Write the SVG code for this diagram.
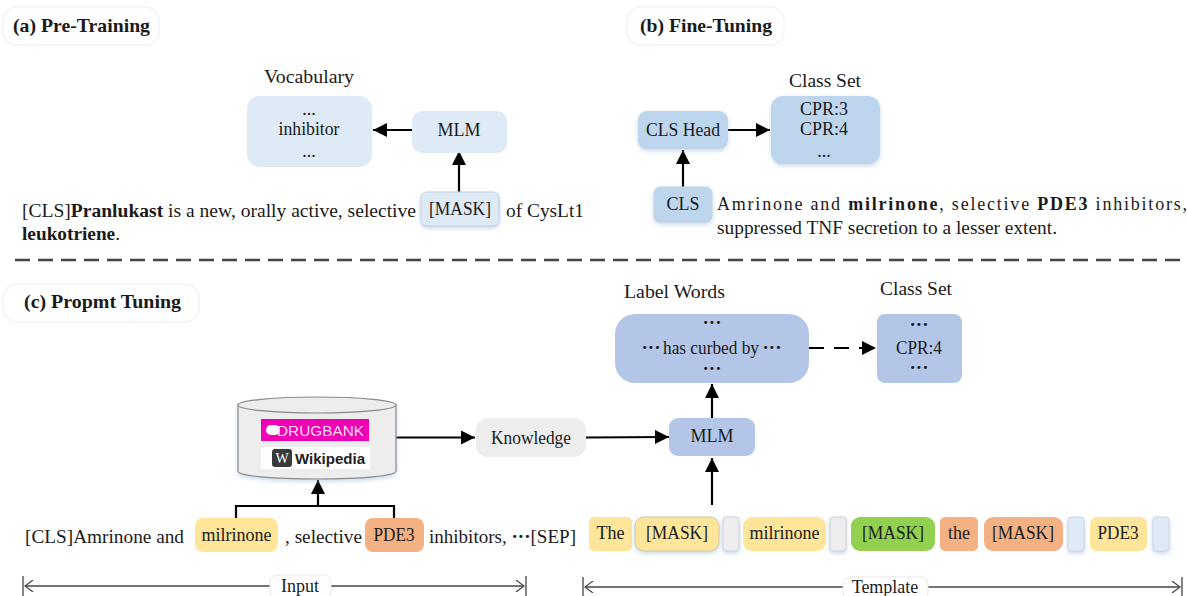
<svg xmlns="http://www.w3.org/2000/svg" width="1188" height="596" viewBox="0 0 1188 596">
<style>
text{font-family:"Liberation Serif","Times New Roman",serif;font-size:18px;fill:#1a1a1a}
.m{text-anchor:middle}
.h{font-weight:bold;font-size:19px}
.b{font-weight:bold}
.d{font-weight:bold;font-size:19px}
.pill{fill:#fff;stroke:#f1f3f6;stroke-width:1.5}
.blue1{fill:#deeaf6}
.blue2{fill:#bdd6ee}
.blue3{fill:#b4c6e7}
.yel{fill:#ffe599}
.org{fill:#f4b183}
.grn{fill:#92d050}
.gry{fill:#ededed}
.edge{fill:none;stroke:#000;stroke-width:2.2}
.span{fill:none;stroke:#444;stroke-width:1.3}
</style>
<defs>
<marker id="ah" markerUnits="userSpaceOnUse" markerWidth="15" markerHeight="16" refX="14" refY="8" orient="auto"><path d="M0 1L14 8L0 15Z" fill="#000"/></marker>
<marker id="open" markerUnits="userSpaceOnUse" markerWidth="10" markerHeight="12" refX="9" refY="6" orient="auto-start-reverse"><path d="M1 0L9 6L1 12" fill="none" stroke="#444" stroke-width="1.2"/></marker>
<filter id="sh" x="-20%" y="-20%" width="140%" height="150%"><feDropShadow dx="0" dy="2" stdDeviation="2" flood-color="#9db8d8" flood-opacity="0.55"/></filter>
</defs>

<g id="pill-a"><rect class="pill" x="3" y="7" width="156" height="38" rx="14"/><text class="h" x="13" y="32" textLength="137" lengthAdjust="spacingAndGlyphs">(a) Pre-Training</text></g>
<g id="pill-b"><rect class="pill" x="627" y="7" width="157" height="38" rx="14"/><text class="h" x="640" y="32" textLength="132" lengthAdjust="spacingAndGlyphs">(b) Fine-Tuning</text></g>
<g id="pill-c"><rect class="pill" x="3" y="284" width="196" height="38" rx="14"/><text class="h" x="24" y="308" textLength="157" lengthAdjust="spacingAndGlyphs">(c) Propmt Tuning</text></g>

<g id="connectors">
<path class="edge" d="M412 130H373" marker-end="url(#ah)"/>
<path class="edge" d="M459 192V151" marker-end="url(#ah)"/>
<path class="edge" d="M728 130H770" marker-end="url(#ah)"/>
<path class="edge" d="M683 187V150" marker-end="url(#ah)"/>
<path d="M15 260H1188" fill="none" stroke="#444" stroke-width="2.6" stroke-dasharray="15 8"/>
<path class="edge" d="M396 437.5H475" marker-end="url(#ah)"/>
<path class="edge" d="M586 437.5L669 437" marker-end="url(#ah)"/>
<path class="edge" d="M236 518V506H394V518"/>
<path class="edge" d="M318 506V480" marker-end="url(#ah)"/>
<path class="edge" d="M712 505V458" marker-end="url(#ah)"/>
<path class="edge" d="M712 418V384" marker-end="url(#ah)"/>
<path class="edge" d="M809 348H876" stroke-dasharray="15 10" marker-end="url(#ah)"/>
</g>

<g id="vocabulary"><text class="m" x="309" y="83" textLength="90" lengthAdjust="spacingAndGlyphs">Vocabulary</text><rect class="blue1" x="247" y="96" width="125" height="71" rx="13"/><text class="m" x="309" y="115">...</text><text class="m" x="309" y="135" textLength="61" lengthAdjust="spacingAndGlyphs">inhibitor</text><text class="m" x="309" y="157">...</text></g>
<g id="mlm-a"><rect class="blue1" x="412" y="111" width="95" height="42" rx="10"/><text class="m" x="459" y="136">MLM</text></g>
<g id="mask-a"><rect class="blue1" x="421" y="192" width="78" height="34" rx="6" stroke="#c3cfdd" filter="url(#sh)"/><text class="m" x="460" y="215" textLength="62" lengthAdjust="spacingAndGlyphs">[MASK]</text></g>
<g id="sentence-a"><text x="22" y="217" textLength="394" lengthAdjust="spacingAndGlyphs">[CLS]<tspan class="b">Pranlukast</tspan> is a new, orally active, selective</text><text x="506" y="217" textLength="78" lengthAdjust="spacingAndGlyphs">of CysLt1</text><text x="22" y="240" textLength="98" lengthAdjust="spacingAndGlyphs"><tspan class="b">leukotriene</tspan>.</text></g>

<g id="cls-head"><rect class="blue2" x="638" y="111" width="90" height="38" rx="9" filter="url(#sh)"/><text class="m" x="683" y="136" textLength="74" lengthAdjust="spacingAndGlyphs">CLS Head</text></g>
<g id="class-set-b"><text class="m" x="825" y="87" textLength="72" lengthAdjust="spacingAndGlyphs">Class Set</text><rect class="blue2" x="771" y="96" width="109" height="68" rx="12" filter="url(#sh)"/><text class="m" x="824" y="115">CPR:3</text><text class="m" x="824" y="135">CPR:4</text><text class="m" x="824" y="157">...</text></g>
<g id="cls"><rect class="blue2" x="654" y="187" width="58" height="35" rx="6" stroke="#c5d3e3" filter="url(#sh)"/><text class="m" x="683" y="210">CLS</text></g>
<g id="sentence-b"><text x="717" y="210" textLength="470">Amrinone  and <tspan class="b">milrinone</tspan>, selective <tspan class="b">PDE3</tspan> inhibitors,</text><text x="717" y="234" textLength="340" lengthAdjust="spacingAndGlyphs">suppressed TNF secretion to a lesser extent.</text></g>

<g id="knowledge-base">
<path d="M238 405V471C238 476 273 479 317 479S396 476 396 471V405Z" fill="#ededed" stroke="#8a8a8a" stroke-width="1.2" filter="url(#sh)"/>
<ellipse cx="317" cy="405" rx="79" ry="8" fill="#ededed" stroke="#8a8a8a" stroke-width="1.2"/>
<rect x="261" y="419" width="108" height="22" fill="#f000b4"/>
<rect x="266" y="425" width="14" height="10" rx="5" fill="#fff"/>
<text x="277" y="436" style="font-family:'Liberation Sans',Arial,sans-serif;font-size:15.500px;fill:#fde" textLength="87" lengthAdjust="spacingAndGlyphs">DRUGBANK</text>
<rect x="261" y="447" width="109" height="22" fill="#fff"/>
<rect x="272" y="449" width="20" height="18" rx="3" fill="#3a3a3a"/>
<text class="m" x="282" y="463" style="font-family:'Liberation Serif',serif;font-size:14px;fill:#fff">W</text>
<text x="295" y="463.500" style="font-family:'Liberation Sans',Arial,sans-serif;font-size:15px;font-weight:bold;fill:#222" textLength="70" lengthAdjust="spacingAndGlyphs">Wikipedia</text>
</g>
<g id="knowledge"><rect class="gry" x="476" y="418" width="110" height="39" rx="12"/><text class="m" x="531" y="444" textLength="80" lengthAdjust="spacingAndGlyphs">Knowledge</text></g>
<g id="mlm-c"><rect class="blue3" x="669" y="418" width="86" height="38" rx="9"/><text class="m" x="712" y="442">MLM</text></g>
<g id="label-words"><text x="624" y="298" textLength="101" lengthAdjust="spacingAndGlyphs">Label Words</text><rect class="blue3" x="615" y="314" width="194" height="69" rx="20"/><text class="m d" x="712" y="329">···</text><text class="m d" x="651" y="354">···</text><text class="m" x="711" y="354" textLength="96" lengthAdjust="spacingAndGlyphs">has curbed by</text><text class="m d" x="772" y="354">···</text><text class="m d" x="712" y="375">···</text></g>
<g id="class-set-c"><text class="m" x="916" y="295" textLength="72" lengthAdjust="spacingAndGlyphs">Class Set</text><rect class="blue3" x="877" y="314" width="85" height="69" rx="8"/><text class="m d" x="919" y="331">···</text><text class="m" x="919" y="354" textLength="46" lengthAdjust="spacingAndGlyphs">CPR:4</text><text class="m d" x="919" y="374">···</text></g>

<g id="input-tokens">
<text x="25" y="543" textLength="159" lengthAdjust="spacingAndGlyphs">[CLS]Amrinone and</text>
<rect class="yel" x="195" y="518" width="83" height="34" rx="8"/><text class="m" x="236.500" y="541" textLength="70" lengthAdjust="spacingAndGlyphs">milrinone</text>
<text x="285" y="543" textLength="77" lengthAdjust="spacingAndGlyphs">, selective</text>
<rect class="org" x="365" y="518" width="59" height="34" rx="8"/><text class="m" x="394" y="541" textLength="41" lengthAdjust="spacingAndGlyphs">PDE3</text>
<text x="429" y="543" textLength="147" lengthAdjust="spacingAndGlyphs">inhibitors, <tspan class="b">···</tspan>[SEP]</text>
</g>

<g id="template-tokens">
<rect class="yel" x="589" y="517" width="43" height="34" rx="5"/><text class="m" x="610.500" y="539">The</text>
<rect class="yel" x="635" y="517" width="84" height="34" rx="9" stroke="#cfc9a8" filter="url(#sh)"/><text class="m" x="677" y="539" textLength="62" lengthAdjust="spacingAndGlyphs">[MASK]</text>
<rect class="gry" x="723" y="517" width="16" height="34" rx="3" stroke="#cfd3d8" filter="url(#sh)"/>
<rect class="yel" x="743" y="517" width="83" height="34" rx="9"/><text class="m" x="784.500" y="539" textLength="70" lengthAdjust="spacingAndGlyphs">milrinone</text>
<rect class="gry" x="830" y="517" width="16" height="34" rx="3" stroke="#cfd3d8" filter="url(#sh)"/>
<rect class="grn" x="851" y="517" width="84" height="34" rx="9"/><text class="m" x="893" y="539" textLength="62" lengthAdjust="spacingAndGlyphs">[MASK]</text>
<rect class="org" x="940" y="517" width="38" height="34" rx="5"/><text class="m" x="959" y="539">the</text>
<rect class="org" x="984" y="517" width="79" height="34" rx="9"/><text class="m" x="1023" y="539" textLength="62" lengthAdjust="spacingAndGlyphs">[MASK]</text>
<rect class="blue1" x="1068" y="517" width="16" height="34" rx="3" stroke="#cfd6e0" filter="url(#sh)"/>
<rect class="yel" x="1090" y="517" width="57" height="34" rx="7"/><text class="m" x="1118" y="539" textLength="41" lengthAdjust="spacingAndGlyphs">PDE3</text>
<rect class="blue1" x="1153" y="517" width="16" height="34" rx="3" stroke="#cfd6e0" filter="url(#sh)"/>
</g>

<g id="input-span">
<path class="span" d="M23 576V596M526 576V596"/>
<path class="span" d="M25 586H524" marker-start="url(#open)" marker-end="url(#open)"/>
<rect x="270" y="575" width="61" height="24" rx="7" fill="#fff" stroke="#e3e6ea"/>
<text class="m" x="300" y="592">Input</text>
</g>
<g id="template-span">
<path class="span" d="M583 577V596M1182 577V596"/>
<path class="span" d="M585 587H1180" marker-start="url(#open)" marker-end="url(#open)"/>
<rect x="843" y="577" width="85" height="24" rx="8" fill="#fff" stroke="#e3e6ea"/>
<text class="m" x="885" y="593">Template</text>
</g>
</svg>
